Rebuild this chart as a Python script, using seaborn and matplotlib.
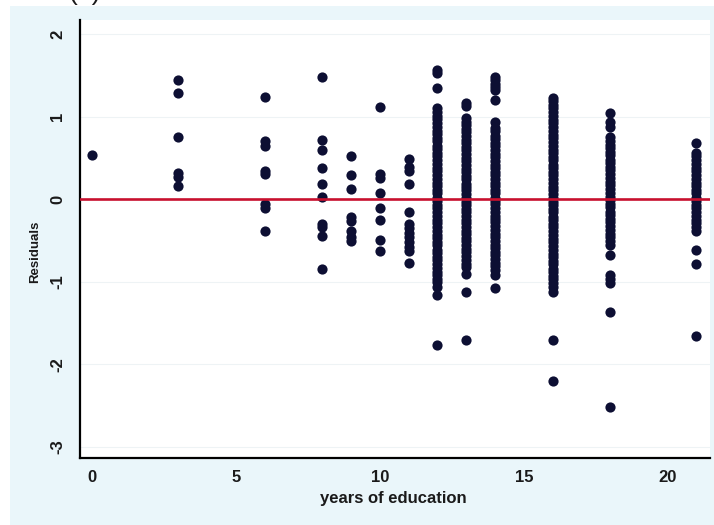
import matplotlib
matplotlib.use("Agg")
import matplotlib.pyplot as plt
from matplotlib.patches import Rectangle
import seaborn as sns
import pandas as pd

# ---- data ----
educ_levels = [0, 3, 6, 8, 9, 10, 11, 12, 13, 14, 16, 18, 21]

res_00 = [0.54]
res_03 = [1.44, 1.29, 0.75, 0.32, 0.27, 0.16]
res_06 = [1.24, 0.71, 0.64, 0.34, 0.30, -0.06, -0.11, -0.39]
res_08 = [1.48, 0.72, 0.60, 0.38, 0.19, 0.03, -0.30, -0.34, -0.45, -0.85]
res_09 = [0.52, 0.29, 0.12, -0.21, -0.26, -0.39, -0.46, -0.51]
res_10 = [1.12, 0.30, 0.26, 0.07, -0.11, -0.25, -0.49, -0.63]
res_11 = [0.49, 0.39, 0.34, 0.18, -0.15, -0.30, -0.35, -0.41, -0.46, -0.52,
          -0.58, -0.63, -0.77]
res_12 = [1.57, 1.53, 1.35, 1.10, 1.06, 1.01, 0.97, 0.92, 0.88, 0.83, 0.79,
          0.74, 0.70, 0.65, 0.61, 0.56, 0.52, 0.47, 0.43, 0.38, 0.34, 0.29,
          0.25, 0.20, 0.16, 0.11, 0.07, 0.02, -0.02, -0.07, -0.11, -0.16,
          -0.20, -0.25, -0.29, -0.34, -0.38, -0.43, -0.47, -0.52, -0.56,
          -0.61, -0.65, -0.70, -0.74, -0.79, -0.83, -0.88, -0.92, -0.96,
          -1.00, -1.06, -1.16, -1.77]
res_13 = [1.17, 1.13, 0.98, 0.94, 0.90, 0.85, 0.81, 0.77, 0.72, 0.68, 0.63,
          0.59, 0.55, 0.50, 0.46, 0.41, 0.37, 0.33, 0.28, 0.24, 0.19, 0.15,
          0.11, 0.06, 0.02, -0.03, -0.07, -0.12, -0.16, -0.20, -0.25, -0.29,
          -0.34, -0.38, -0.42, -0.47, -0.51, -0.56, -0.60, -0.64, -0.69,
          -0.73, -0.78, -0.82, -0.90, -1.12, -1.70]
res_14 = [1.48, 1.44, 1.40, 1.36, 1.32, 1.20, 0.93, 0.86, 0.82, 0.77, 0.73,
          0.68, 0.64, 0.60, 0.55, 0.51, 0.46, 0.42, 0.38, 0.33, 0.29, 0.24,
          0.20, 0.16, 0.11, 0.07, 0.02, -0.02, -0.06, -0.11, -0.15, -0.20,
          -0.24, -0.28, -0.33, -0.37, -0.42, -0.46, -0.50, -0.55, -0.59,
          -0.64, -0.68, -0.72, -0.77, -0.81, -0.86, -0.92, -1.08]
res_16 = [1.23, 1.19, 1.14, 1.10, 1.05, 1.01, 0.96, 0.92, 0.87, 0.83, 0.78,
          0.74, 0.69, 0.65, 0.60, 0.56, 0.51, 0.47, 0.42, 0.38, 0.33, 0.29,
          0.24, 0.20, 0.15, 0.11, 0.06, 0.02, -0.03, -0.07, -0.12, -0.16,
          -0.21, -0.25, -0.30, -0.34, -0.39, -0.43, -0.48, -0.52, -0.57,
          -0.61, -0.66, -0.70, -0.75, -0.79, -0.84, -0.88, -0.93, -0.97,
          -1.02, -1.06, -1.12, -1.71, -2.20]
res_18 = [1.04, 0.94, 0.88, 0.75, 0.71, 0.66, 0.62, 0.57, 0.53, 0.48, 0.44,
          0.39, 0.35, 0.30, 0.26, 0.21, 0.17, 0.12, 0.08, 0.03, -0.01, -0.06,
          -0.10, -0.15, -0.19, -0.24, -0.28, -0.33, -0.37, -0.42, -0.46,
          -0.51, -0.56, -0.68, -0.92, -0.97, -1.02, -1.37, -2.52]
res_21 = [0.68, 0.56, 0.52, 0.47, 0.43, 0.38, 0.34, 0.29, 0.25, 0.20, 0.16,
          0.11, 0.07, 0.02, -0.02, -0.07, -0.11, -0.16, -0.20, -0.25, -0.29,
          -0.34, -0.38, -0.62, -0.78, -1.65]

residual_groups = [res_00, res_03, res_06, res_08, res_09, res_10, res_11,
                   res_12, res_13, res_14, res_16, res_18, res_21]

x_ticks = [0, 5, 10, 15, 20]
y_ticks = [-3, -2, -1, 0, 1, 2]
x_label = "years of education"
y_label = "Residuals"
panel_tag = "(a)"

# ---- build table ----
rows_x, rows_y = [], []
for lvl, grp in zip(educ_levels, residual_groups):
    rows_x += [lvl] * len(grp)
    rows_y += grp
df = pd.DataFrame({"educ": rows_x, "resid": rows_y})

# ---- style ----
sns.set_style("white")
plt.rcParams["font.family"] = ["Liberation Sans", "DejaVu Sans"]
plt.rcParams["axes.unicode_minus"] = False

BG = "#EAF6FA"
DOT = "#0D0F33"
RED = "#C8102E"
TXT = "#1A1A1A"

fig = plt.figure(figsize=(7.14, 5.25), dpi=100, facecolor="white")
fig.add_artist(Rectangle((10 / 714, 0), 704 / 714, 519 / 525,
                         transform=fig.transFigure, facecolor=BG,
                         edgecolor="none", zorder=-10))
ax = fig.add_axes([0.112, 0.128, 0.882, 0.834])
ax.set_facecolor("white")

ax.grid(axis="y", color="#EEF3F5", lw=0.8, zorder=0)
ax.set_axisbelow(True)

sns.scatterplot(data=df, x="educ", y="resid", color=DOT, s=54,
                linewidth=0, ax=ax, zorder=2, legend=False)
ax.axhline(0, color=RED, lw=1.9, zorder=3)

ax.set_xlim(-0.42, 21.46)
ax.set_ylim(-3.13, 2.17)
ax.set_xticks(x_ticks)
ax.set_yticks(y_ticks)
ax.set_xticklabels([str(t) for t in x_ticks], fontsize=12,
                   fontweight="bold", color=TXT)
ax.set_yticklabels([str(t) for t in y_ticks], fontsize=12, rotation=90,
                   va="center", fontweight="bold", color=TXT)

for side in ["top", "right"]:
    ax.spines[side].set_visible(False)
for side in ["left", "bottom"]:
    ax.spines[side].set_color("black")
    ax.spines[side].set_linewidth(1.6)

ax.tick_params(axis="x", direction="out", length=5.5, width=1.6,
               color="black", pad=3)
ax.tick_params(axis="y", direction="out", length=5.5, width=1.6,
               color="black", pad=5)

ax.set_xlabel(x_label, fontsize=12, fontweight="bold", color=TXT)
ax.set_ylabel(y_label, fontsize=9.5, fontweight="bold", color=TXT)
ax.xaxis.set_label_coords(0.497, -0.076)
ax.yaxis.set_label_coords(-0.062, 0.47)

fig.text(68 / 714, 1.0, panel_tag, fontsize=19, ha="left", va="baseline",
         color=TXT)

fig.savefig("out.png", dpi=100, facecolor="white")
